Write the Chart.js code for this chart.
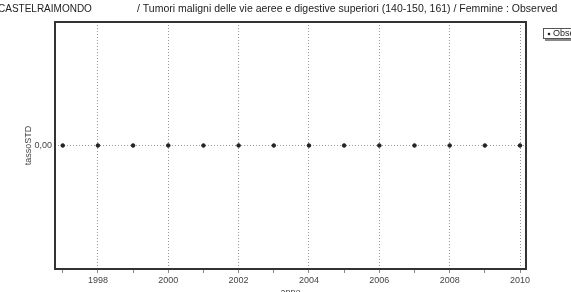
<!DOCTYPE html>
<html>
<head>
<meta charset="utf-8">
<script src="https://cdn.jsdelivr.net/npm/chart.js@4"></script>
<style>
  html, body { margin: 0; padding: 0; background: #fff; }
  #wrap { width: 571px; height: 292px; }
</style>
</head>
<body>
<div id="wrap"><canvas id="chart" width="571" height="292"></canvas></div>
<script>
const comune = "CASTELRAIMONDO";
const titolo = "/ Tumori maligni delle vie aeree e digestive superiori (140-150, 161) / Femmine : Observed";
const anni = [1997, 1998, 1999, 2000, 2001, 2002, 2003, 2004, 2005, 2006, 2007, 2008, 2009, 2010];
const tassoSTD = [0, 0, 0, 0, 0, 0, 0, 0, 0, 0, 0, 0, 0, 0];
const serieLabel = "Observed";

const FONT = "'Liberation Sans', Arial, sans-serif";

// titles, frame, axis titles and legend box
const decor = {
  id: "decor",
  afterDraw(chart) {
    const ctx = chart.ctx;
    const a = chart.chartArea;
    ctx.save();
    ctx.fillStyle = "#222";
    ctx.textBaseline = "middle";
    ctx.textAlign = "left";
    ctx.font = "10px " + FONT;
    ctx.fillText(comune, -2, 9);
    ctx.font = "10.5px " + FONT;
    ctx.fillText(titolo, 137, 9);

    ctx.strokeStyle = "#333";
    ctx.lineWidth = 2;
    ctx.strokeRect(a.left, a.top, a.right - a.left, a.bottom - a.top);

    ctx.font = "9px " + FONT;
    ctx.fillStyle = "#444";
    ctx.textAlign = "center";
    ctx.fillText("anno", (a.left + a.right) / 2, 293);
    ctx.translate(29, (a.top + a.bottom) / 2);
    ctx.rotate(-Math.PI / 2);
    ctx.fillText("tassoSTD", 0, 0);
    ctx.restore();

    // legend
    ctx.save();
    ctx.fillStyle = "#888";
    ctx.fillRect(545, 30, 30, 11);
    ctx.fillStyle = "#fff";
    ctx.fillRect(543, 28, 30, 11);
    ctx.strokeStyle = "#555";
    ctx.lineWidth = 1;
    ctx.strokeRect(543.5, 28.5, 40, 10);
    ctx.fillStyle = "#222";
    ctx.beginPath();
    ctx.arc(549, 34, 1.3, 0, Math.PI * 2);
    ctx.fill();
    ctx.font = "9px " + FONT;
    ctx.textBaseline = "middle";
    ctx.fillText(serieLabel, 553, 34);
    ctx.restore();
  }
};

new Chart(document.getElementById("chart"), {
  type: "scatter",
  data: {
    datasets: [{
      label: serieLabel,
      data: anni.map((x, i) => ({ x: x, y: tassoSTD[i] })),
      backgroundColor: "#222",
      borderColor: "#222",
      pointRadius: 1.8,
      showLine: false
    }]
  },
  options: {
    responsive: false,
    animation: false,
    layout: { padding: { top: 22, right: 45, left: 0, bottom: 0 } },
    plugins: { legend: { display: false }, tooltip: { enabled: false } },
    scales: {
      x: {
        type: "linear",
        min: 1996.78,
        max: 2010.17,
        afterBuildTicks(scale) { scale.ticks = anni.map(v => ({ value: v })); },
        afterFit(scale) { scale.height = 23; },
        border: { display: false, dash: [1, 2] },
        grid: {
          color: c => (c.tick && c.tick.value % 2 === 0) ? "#999" : "rgba(0,0,0,0)",
          tickColor: "#888",
          tickLength: 4,
          lineWidth: 1
        },
        ticks: {
          autoSkip: false,
          maxRotation: 0,
          padding: 2,
          color: "#444",
          font: { family: FONT, size: 9 },
          callback: v => (v % 2 === 0 ? String(v) : "")
        }
      },
      y: {
        min: -1,
        max: 1,
        afterBuildTicks(scale) { scale.ticks = [{ value: 0 }]; },
        afterFit(scale) { scale.width = 55; },
        border: { display: false, dash: [1, 2] },
        grid: { color: "#999", tickLength: 0 },
        ticks: {
          color: "#444",
          padding: 3,
          font: { family: FONT, size: 9 },
          callback: v => v.toFixed(2).replace(".", ",")
        }
      }
    }
  },
  plugins: [decor]
});
</script>
</body>
</html>
